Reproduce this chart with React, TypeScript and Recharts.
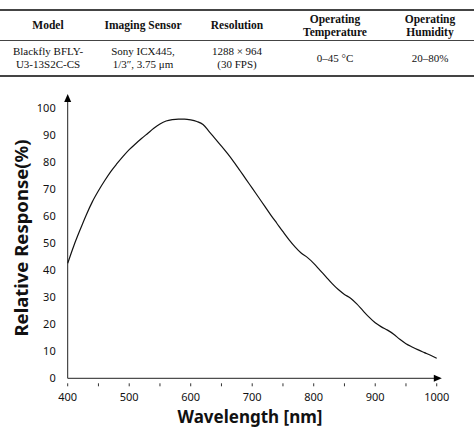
import React from 'react';
import { LineChart, Line, XAxis, YAxis, ReferenceDot } from 'recharts';

const wavelengths = [400,410,420,430,440,450,460,470,480,490,500,510,520,530,540,550,560,570,580,590,600,610,620,630,640,650,660,670,680,690,700,710,720,730,740,750,760,770,780,790,800,810,820,830,840,850,860,870,880,890,900,910,920,930,940,950,960,970,980,990,1000];
const response = [42.5,49,54.8,60.3,65.2,69.3,73,76.4,79.3,82,84.5,86.6,88.6,90.5,92.4,94,95.1,95.6,95.8,95.8,95.5,94.9,93.8,91.2,88.5,85.8,83,80,76.8,73.5,70.3,67,63.7,60.4,57.3,54.2,51.2,48.5,46.2,44.6,42.5,40,37.5,35,32.8,31,29.6,27.5,25,22.6,20.5,19,17.8,16.3,14.4,12.8,11.6,10.5,9.5,8.5,7.4];
const xTicks = [400,450,500,550,600,650,700,750,800,850,900,950,1000];
const yTicks = [0,10,20,30,40,50,60,70,80,90,100];

const tableHeaders = [['Model'], ['Imaging Sensor'], ['Resolution'], ['Operating', 'Temperature'], ['Operating', 'Humidity']];
const tableRow = [['Blackfly BFLY-', 'U3-13S2C-CS'], ['Sony ICX445,', '1/3\u2033, 3.75 \u03bcm'], ['1288 \u00d7 964', '(30 FPS)'], ['0\u201345 \u00b0C'], ['20\u201380%']];
const colWidths = [96, 94, 94, 102, 88];

const data = wavelengths.map((w, i) => ({ w, r: response[i] }));

const XTick = (props: any) => {
  const { x, y, payload } = props;
  const v = payload.value;
  return (
    <g>
      <line x1={x} x2={x} y1={y} y2={y - 3} stroke="#333" strokeWidth={1} />
      {v % 100 === 0 && (
        <text x={x} y={y + 15} textAnchor="middle" fontSize={11} fill="#111" fontFamily="'Noto Sans', sans-serif">{v}</text>
      )}
    </g>
  );
};

const ArrowUp = (props: any) => {
  const { cx, cy } = props;
  return <path d={`M${cx},${cy - 3} L${cx - 3.5},${cy + 5} L${cx + 3.5},${cy + 5} Z`} fill="#000" />;
};
const ArrowRight = (props: any) => {
  const { cx, cy } = props;
  return <path d={`M${cx + 2},${cy} L${cx - 6},${cy - 3.5} L${cx - 6},${cy + 3.5} Z`} fill="#000" />;
};

const cellText = (lines: string[], bold: boolean) => (
  <div style={{ lineHeight: '13px', fontWeight: bold ? 'bold' : 'normal', fontSize: bold ? 11.5 : 11 }}>
    {lines.map((l, i) => <div key={i}>{l}</div>)}
  </div>
);

export default function App() {
  return (
    <div style={{ position: 'absolute', left: 0, top: 0, width: 474, height: 442, background: '#fff' }}>
      <div style={{ position: 'absolute', left: 0, top: 9, width: 474, fontFamily: "'Liberation Serif', serif", fontSize: 11, color: '#111' }}>
        <div style={{ borderTop: '2px solid #444', borderBottom: '1px solid #444', display: 'flex', height: 29 }}>
          {tableHeaders.map((h, i) => (
            <div key={i} style={{ width: colWidths[i], display: 'flex', alignItems: 'center', justifyContent: 'center', textAlign: 'center' }}>
              {cellText(h, true)}
            </div>
          ))}
        </div>
        <div style={{ borderBottom: '2px solid #444', display: 'flex', height: 34 }}>
          {tableRow.map((h, i) => (
            <div key={i} style={{ width: colWidths[i], display: 'flex', alignItems: 'center', justifyContent: 'center', textAlign: 'center' }}>
              {cellText(h, false)}
            </div>
          ))}
        </div>
      </div>
      <div style={{ position: 'absolute', left: 0, top: 0 }}>
        <LineChart width={474} height={442} data={data} margin={{ top: 96.9, right: 34.2, bottom: 33.7, left: 27.7 }}>
          <XAxis
            dataKey="w"
            type="number"
            domain={[400, 1005]}
            ticks={xTicks}
            interval={0}
            axisLine={{ stroke: '#222', strokeWidth: 1 }}
            tickLine={false}
            tick={<XTick />}
            height={30}
          />
          <YAxis
            type="number"
            domain={[0, 104]}
            ticks={yTicks}
            interval={0}
            width={40}
            axisLine={{ stroke: '#222', strokeWidth: 1 }}
            tickLine={false}
            tickSize={0}
            tickMargin={12}
            tick={{ fontSize: 11, fill: '#111', fontFamily: "'Noto Sans', sans-serif" }}
          />
          <Line type="monotone" dataKey="r" stroke="#111" strokeWidth={1.2} dot={false} isAnimationActive={false} />
          <ReferenceDot x={400} y={104} ifOverflow="visible" shape={<ArrowUp />} />
          <ReferenceDot x={1005} y={0} ifOverflow="visible" shape={<ArrowRight />} />
        </LineChart>
      </div>
      <div style={{ position: 'absolute', left: 150, top: 404, width: 200, textAlign: 'center', fontFamily: "'Noto Sans', sans-serif", fontWeight: 'bold', fontSize: 17, lineHeight: '26px', color: '#111' }}>
        Wavelength [nm]
      </div>
      <div style={{ position: 'absolute', left: 21, top: 238, width: 0, height: 0 }}>
        <div style={{ position: 'absolute', left: -150, top: -13, width: 300, textAlign: 'center', transform: 'rotate(-90deg)', fontFamily: "'Noto Sans', sans-serif", fontWeight: 'bold', fontSize: 18.5, lineHeight: '26px', color: '#111', whiteSpace: 'nowrap' }}>
          Relative Response(%)
        </div>
      </div>
    </div>
  );
}
